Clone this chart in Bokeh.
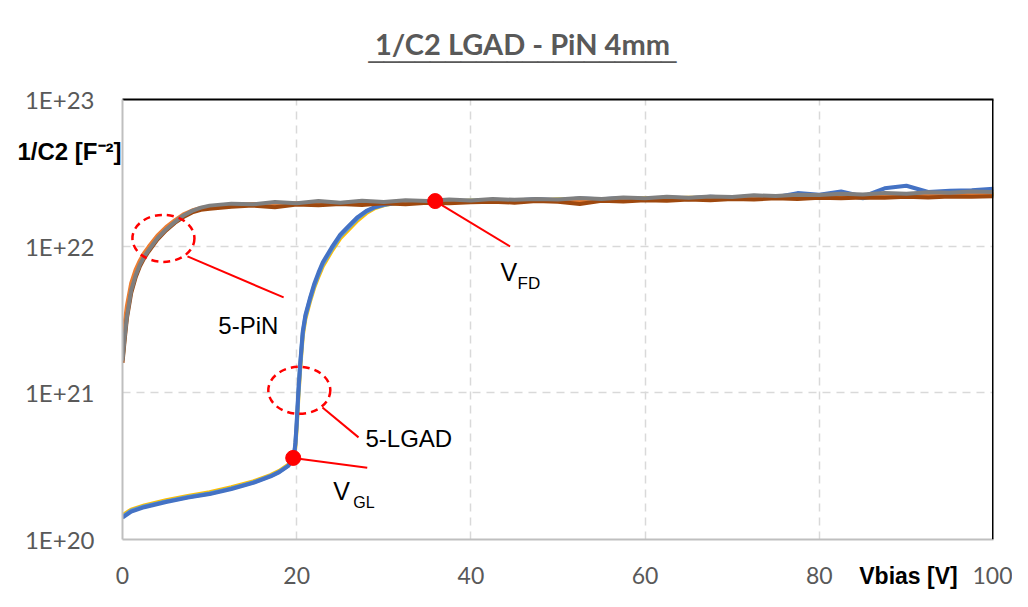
from bokeh.plotting import figure
from bokeh.models import (Range1d, FixedTicker, CustomJSTickFormatter, Span, Label,
                          LinearAxis, LogAxis)
from bokeh.embed import file_html
from bokeh.resources import INLINE

# ---------------- data (1/C^2 values in units of 1e21 F^-2) ----------------
v_pin = [0, 0.25, 0.5, 1, 1.5, 2, 2.5, 3, 4, 5, 6, 7, 8, 9,
         10, 12.5, 15, 17.5, 20, 22.5, 25, 27.5, 30, 32.5, 35, 37.5, 40, 42.5, 45, 47.5,
         50, 52.5, 55, 57.5, 60, 62.5, 65, 67.5, 70, 72.5, 75, 77.5, 80, 82.5, 85, 87.5,
         90, 92.5, 95, 97.5, 100]

pin_gray = [1.66, 2.4, 3.3, 5.0, 6.3, 7.5, 8.5, 9.4, 11.3, 13.0, 14.6, 16.2, 17.4, 18.3,
            18.9, 19.5, 19.3, 20.0, 19.6, 20.3, 19.8, 20.4, 20.0, 20.6, 20.3, 20.8, 20.5, 21.0, 20.7, 21.0,
            20.8, 21.3, 21.0, 21.5, 21.2, 21.7, 21.4, 21.8, 21.6, 22.2, 22.0, 22.4, 22.3, 22.8, 22.5, 23.0,
            22.8, 23.3, 23.1, 23.6, 23.4]
pin_brown = [1.6, 2.3, 3.2, 4.8, 6.1, 7.3, 8.3, 9.2, 11.1, 12.8, 14.4, 15.8, 17.0, 17.7,
             18.0, 18.6, 18.9, 18.4, 19.2, 19.0, 19.4, 19.1, 19.6, 19.3, 19.8, 19.6, 19.9, 20.1, 19.8, 20.3,
             20.1, 19.4, 20.4, 20.2, 20.6, 20.4, 20.8, 20.6, 21.0, 20.8, 21.2, 21.0, 21.4, 21.2, 21.5, 21.4,
             21.7, 21.5, 21.8, 21.7, 21.9]
pin_orange = [2.3, 3.0, 3.9, 5.6, 6.9, 8.0, 9.0, 9.9, 11.8, 13.5, 15.0, 16.5, 17.5, 18.2,
              18.5, 19.0, 19.4, 19.3, 19.6, 19.7, 19.6, 19.9, 20.0, 19.9, 20.2, 20.3, 20.2, 20.5, 20.4, 20.6,
              20.5, 20.7, 20.6, 20.9, 20.8, 21.0, 21.0, 21.2, 21.3, 21.4, 21.5, 21.7, 21.8, 22.0, 22.1, 22.3,
              22.2, 22.5, 22.6, 22.8, 22.9]
pin_green = [1.7, 2.5, 3.4, 5.1, 6.4, 7.6, 8.6, 9.5, 11.4, 13.1, 14.7, 16.1, 17.3, 18.1,
             18.6, 19.1, 19.2, 19.5, 19.4, 19.8, 19.7, 19.8, 19.9, 20.1, 20.0, 20.2, 20.4, 20.3, 20.6, 20.5,
             20.7, 20.6, 20.8, 20.7, 21.0, 21.1, 21.0, 21.3, 21.2, 21.5, 21.4, 21.6, 21.8, 21.7, 21.9, 22.0,
             21.9, 22.2, 22.1, 22.4, 22.3]

v_lgad = [0, 1, 2.5, 5, 7.5, 10, 12.5, 15, 17, 18, 19, 19.5, 19.7, 19.85, 20, 20.2, 20.4, 20.7,
          21, 21.5, 22, 22.5, 23, 24, 25, 26, 27, 28, 29, 30, 31,
          32.5, 35, 37.5, 40, 42.5, 45, 47.5, 50, 52.5, 55, 57.5, 60, 62.5, 65, 67.5, 70,
          72.5, 75, 77.5, 80, 82.5, 85, 87.5, 90, 92.5, 95, 97.5, 100]

lgad_blue = [0.141, 0.155, 0.166, 0.180, 0.193, 0.204, 0.221, 0.243, 0.269, 0.288, 0.316, 0.343, 0.380, 0.457,
             0.63, 1.05, 1.58, 2.63, 3.39, 4.37, 5.5, 6.6, 7.76, 9.77, 12.0, 13.8, 15.8, 17.4, 18.5, 19.2, 19.6,
             19.9, 20.2, 20.4, 20.3, 20.7, 20.5, 20.9, 20.6, 21.1, 20.9, 21.3, 21.0, 21.5, 21.2, 21.7, 21.4,
             22.0, 21.6, 23.0, 22.4, 23.6, 21.8, 24.8, 25.8, 23.4, 23.9, 24.1, 24.6]
lgad_yellow = [0.146, 0.160, 0.171, 0.185, 0.198, 0.210, 0.227, 0.249, 0.275, 0.294, 0.322, 0.349, 0.375, 0.43,
               0.58, 0.95, 1.45, 2.45, 3.2, 4.15, 5.2, 6.2, 7.3, 9.2, 11.3, 13.0, 15.0, 16.8, 18.2, 19.0, 19.5,
               19.8, 20.1, 20.2, 20.4, 20.3, 20.6, 20.5, 20.8, 20.7, 21.0, 20.9, 21.2, 21.1, 21.4, 21.3, 21.6,
               21.5, 21.8, 21.7, 22.0, 21.9, 22.2, 22.1, 22.4, 22.3, 22.6, 22.5, 22.8]
lgad_lightblue = [0.143, 0.157, 0.168, 0.182, 0.195, 0.206, 0.223, 0.245, 0.271, 0.290, 0.318, 0.345, 0.378, 0.445,
                  0.61, 1.0, 1.52, 2.55, 3.3, 4.27, 5.35, 6.4, 7.55, 9.5, 11.7, 13.5, 15.5, 17.2, 18.4, 19.1, 19.5,
                  19.9, 20.0, 20.5, 20.1, 20.6, 20.3, 20.8, 20.4, 21.0, 20.6, 21.1, 20.8, 21.2, 20.9, 21.4, 21.0,
                  21.7, 21.3, 22.1, 21.5, 22.5, 21.2, 22.6, 22.1, 22.8, 22.6, 23.2, 23.6]

# marked points (V, 1/C^2)
vgl_point = (19.6, 3.6e20)
vfd_point = (35.9, 2.03e22)
ellipse_x = [4.7, 20.3]
ellipse_y = [1.13e22, 1.04e21]

x_ticks = [0, 20, 40, 60, 80, 100]
y_ticks = [1e20, 1e21, 1e22, 1e23]

title_text = "1/C2 LGAD - PiN 4mm"
x_title = "Vbias [V]"
y_title = "1/C2 [F\u207b\u00b2]"

UNIT = 1e21
GRID = "#d9d9d9"
TICK_FONT = "Lato"
ARIAL = "Liberation Sans"

p = figure(width=1012, height=591, output_backend="svg", toolbar_location=None,
           y_axis_type="log", x_range=Range1d(0, 100), y_range=Range1d(1e20, 1e23),
           min_border_left=122, min_border_right=19, min_border_top=99, min_border_bottom=52)
p.outline_line_color = None
p.background_fill_color = "white"
p.border_fill_color = "white"

# main axes
p.xaxis[0].ticker = FixedTicker(ticks=x_ticks)
p.yaxis[0].ticker = FixedTicker(ticks=y_ticks)
p.yaxis[0].formatter = CustomJSTickFormatter(code="return '1E+' + Math.round(Math.log10(tick));")
for ax in (p.xaxis[0], p.yaxis[0]):
    ax.axis_line_color = "#bfbfbf"
    ax.axis_line_width = 2
    ax.major_tick_line_color = None
    ax.minor_tick_line_color = None
    ax.major_tick_out = 0
    ax.major_tick_in = 0
    ax.major_label_text_font = TICK_FONT
    ax.major_label_text_color = "#595959"
p.yaxis[0].major_label_standoff = 28
p.yaxis[0].major_label_text_font_size = "24px"
p.xaxis[0].major_label_standoff = 27
p.xaxis[0].major_label_text_font_size = "23px"


def text_axis(cls, tick, text, font, size, style, color, standoff, line_color=None):
    ax = cls(ticker=FixedTicker(ticks=[tick]),
             formatter=CustomJSTickFormatter(args=dict(t=text), code="return t;"))
    ax.axis_line_color = line_color
    ax.axis_line_width = 2
    ax.major_tick_line_color = None
    ax.minor_tick_line_color = None
    ax.major_tick_out = 0
    ax.major_tick_in = 0
    ax.major_label_standoff = standoff
    ax.major_label_text_font = font
    ax.major_label_text_font_size = size
    ax.major_label_text_font_style = style
    ax.major_label_text_color = color
    return ax

# chart title (axis above, its line is the black top frame edge) + underline
p.add_layout(text_axis(LinearAxis, 45.92, title_text, "Lato", "29px", "bold", "#595959", 39,
                       line_color="black"), "above")
p.add_layout(text_axis(LinearAxis, 45.92, "_" * 20, ARIAL, "27.7px", "normal", "#595959", -40),
             "above")
# y title (horizontal, top-left)
p.add_layout(text_axis(LogAxis, 4.43e22, y_title, ARIAL, "24px", "bold", "black", -100), "left")
# x title (in the tick label row)
p.add_layout(text_axis(LinearAxis, 90.24, x_title, ARIAL, "23px", "bold", "black", -24), "below")

for g in (p.xgrid[0], p.ygrid[0]):
    g.grid_line_color = GRID
    g.grid_line_width = 1.5
    g.grid_line_dash = "8 6"
p.xgrid[0].ticker = FixedTicker(ticks=x_ticks)
p.ygrid[0].ticker = FixedTicker(ticks=y_ticks)

# black right frame edge
p.add_layout(Span(location=100, dimension="height", line_color="black", line_width=3))

# curves
LW = 4
def scaled(vals):
    return [v * UNIT for v in vals]

p.line(v_lgad, scaled(lgad_yellow), line_color="#FFC000", line_width=LW)
p.line(v_lgad, scaled(lgad_lightblue), line_color="#5B9BD5", line_width=LW)
p.line(v_lgad, scaled(lgad_blue), line_color="#4472C4", line_width=LW)
p.line(v_pin, scaled(pin_green), line_color="#70AD47", line_width=LW)
p.line(v_pin, scaled(pin_orange), line_color="#ED7D31", line_width=LW)
p.line(v_pin, scaled(pin_brown), line_color="#9E480E", line_width=LW)
p.line(v_pin, scaled(pin_gray), line_color="#7F7F7F", line_width=LW)

# annotations
p.ellipse(x=ellipse_x, y=ellipse_y, width=62, height=47, width_units="screen",
          height_units="screen", fill_color=None, line_color="red", line_width=2.5,
          line_dash="7 5")
p.segment(x0=[7.46, 22.96, vgl_point[0], vfd_point[0]],
          y0=[8.51e21, 7.94e20, vgl_point[1], vfd_point[1]],
          x1=[18.5, 27.1, 28.1, 44.5],
          y1=[4.47e21, 4.97e20, 3.09e20, 9.95e21],
          line_color="red", line_width=2)
p.scatter(x=[vgl_point[0], vfd_point[0]], y=[vgl_point[1], vfd_point[1]],
          size=15, fill_color="red", line_color="red")

def lab(x, y, text, size="24px", font=ARIAL, style="normal", color="black", align="left"):
    p.add_layout(Label(x=x, y=y, text=text, text_font=font, text_font_size=size,
                       text_font_style=style, text_color=color, text_align=align,
                       text_baseline="middle"))

lab(11.0, 2.88e21, "5-PiN")
lab(27.9, 4.89e20, "5-LGAD")
lab(24.2, 2.13e20, "V", size="25px")
lab(26.5, 1.79e20, "GL", size="16px")
lab(43.4, 6.62e21, "V", size="25px")
lab(45.35, 5.57e21, "FD", size="17px")

open("out.html", "w").write(file_html(p, INLINE))
